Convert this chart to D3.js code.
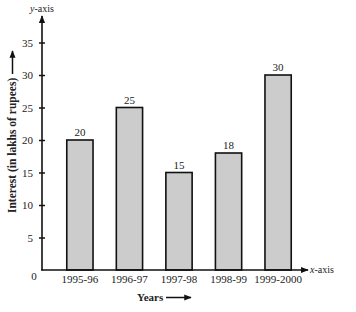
<!DOCTYPE html>
<meta charset="utf-8">
<style>
body { margin: 0; background: #fff; }
text { font-family: "Liberation Serif", "Times New Roman", serif; fill: #222; }
.bar { fill: #cccccc; stroke: #111; stroke-width: 1.6; }
</style>
<body>
<script src="https://d3js.org/d3.v7.min.js"></script>
<script>

// data
var years = ["1995-96", "1996-97", "1997-98", "1998-99", "1999-2000"];
var interest = [20, 25, 15, 18, 30];
var yTicks = [5, 10, 15, 20, 25, 30, 35];

var width = 356, height = 312;
var x0 = 42, y0 = 270;

var x = d3.scaleBand()
    .domain(years)
    .range([x0, 316])
    .paddingInner(0.47)
    .paddingOuter(0.5);
var y = d3.scaleLinear()
    .domain([0, 35])
    .range([y0, 42.5]);

var svg = d3.select("body").append("svg")
    .attr("width", width)
    .attr("height", height);

var defs = svg.append("defs");
defs.append("marker")
    .attr("id", "arr")
    .attr("viewBox", "0 0 10 10")
    .attr("refX", 9).attr("refY", 5)
    .attr("markerWidth", 5).attr("markerHeight", 5)
    .attr("markerUnits", "strokeWidth")
    .attr("orient", "auto")
  .append("path")
    .attr("d", "M0,1 L10,5 L0,9 Z")
    .attr("fill", "#111");

// bars
svg.selectAll(".bar")
    .data(interest)
  .enter().append("rect")
    .attr("class", "bar")
    .attr("x", function(d, i) { return x(years[i]); })
    .attr("width", x.bandwidth())
    .attr("y", function(d) { return y(d); })
    .attr("height", function(d) { return y0 - y(d); });

// value labels
svg.selectAll(".val")
    .data(interest)
  .enter().append("text")
    .attr("x", function(d, i) { return x(years[i]) + x.bandwidth() / 2; })
    .attr("y", function(d) { return y(d) - 4; })
    .attr("text-anchor", "middle")
    .attr("font-size", "11px")
    .text(function(d) { return d; });

// y axis
var ya = svg.append("g")
    .attr("transform", "translate(" + x0 + ",0)")
    .call(d3.axisLeft(y).tickValues(yTicks).tickSize(3).tickPadding(6));
ya.select(".domain").remove();
ya.selectAll(".tick line").attr("x1", -3).attr("x2", 3)
    .attr("stroke", "#111").attr("stroke-width", 1.5);
ya.selectAll(".tick text")
    .attr("font-family", "Liberation Serif")
    .attr("font-size", "11px").attr("fill", "#222");

svg.append("line")
    .attr("x1", x0).attr("y1", y0 + 0.5)
    .attr("x2", x0).attr("y2", 16)
    .attr("stroke", "#111").attr("stroke-width", 1.6)
    .attr("marker-end", "url(#arr)");

// x axis
var xa = svg.append("g")
    .attr("transform", "translate(0," + y0 + ")")
    .call(d3.axisBottom(x).tickSize(0).tickPadding(5));
xa.select(".domain").remove();
xa.selectAll(".tick text")
    .attr("font-family", "Liberation Serif")
    .attr("font-size", "11px").attr("fill", "#222");

svg.append("line")
    .attr("x1", x0 - 0.8).attr("y1", y0)
    .attr("x2", 308).attr("y2", y0)
    .attr("stroke", "#111").attr("stroke-width", 1.6)
    .attr("marker-end", "url(#arr)");

// origin
svg.append("text")
    .attr("x", 34).attr("y", 280)
    .attr("text-anchor", "middle")
    .attr("font-size", "11px")
    .text("0");

// axis names
svg.append("text")
    .attr("x", x0).attr("y", 12)
    .attr("text-anchor", "middle")
    .attr("font-size", "10px")
    .html('<tspan font-style="italic">y</tspan>-axis');

svg.append("text")
    .attr("x", 310).attr("y", 273)
    .attr("font-size", "10px")
    .html('<tspan font-style="italic">x</tspan>-axis');

// titles
svg.append("text")
    .attr("x", 137).attr("y", 301)
    .attr("font-size", "11px")
    .attr("font-weight", "bold")
    .text("Years");
svg.append("line")
    .attr("x1", 166).attr("y1", 297.5)
    .attr("x2", 191).attr("y2", 297.5)
    .attr("stroke", "#111").attr("stroke-width", 1.5)
    .attr("marker-end", "url(#arr)");

svg.append("text")
    .attr("transform", "translate(16,213) rotate(-90)")
    .attr("font-size", "11.5px")
    .attr("font-weight", "bold")
    .text("Interest (in lakhs of rupees)");
svg.append("line")
    .attr("x1", 12.5).attr("y1", 74)
    .attr("x2", 12.5).attr("y2", 51)
    .attr("stroke", "#111").attr("stroke-width", 1.5)
    .attr("marker-end", "url(#arr)");

</script>
</body>
